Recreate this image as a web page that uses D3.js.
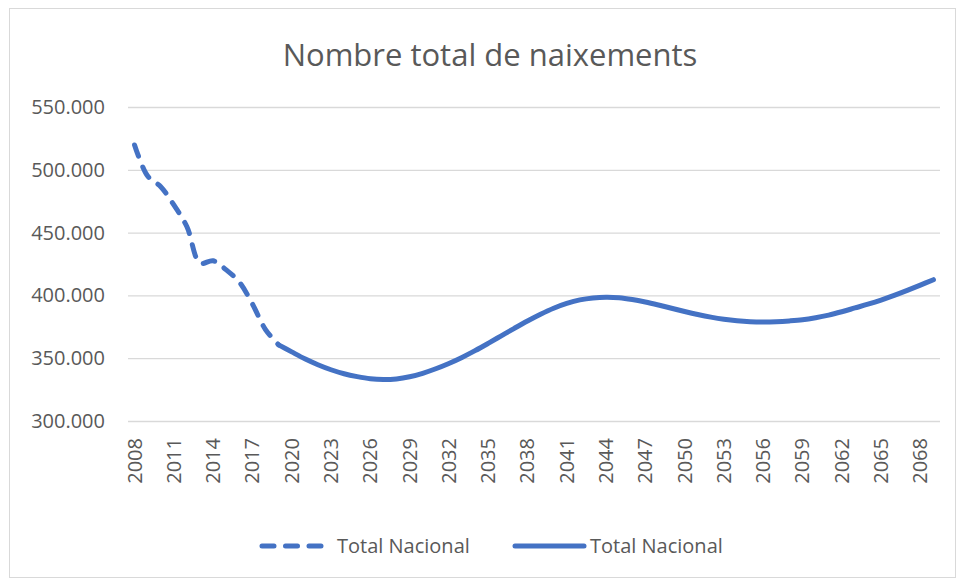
<!DOCTYPE html>
<html lang="ca">
  <head>
    <meta charset="utf-8">
    <title>Nombre total de naixements</title>
    <style>
      body { margin: 0; background: #fff; }
      text { font-family: "Open Sans", sans-serif; fill: #595959; }
    </style>
  </head>
  <body>
    <div id="chart"></div>
    <script src="https://cdn.jsdelivr.net/npm/d3@7"></script>
    <script>

    // years 2008..2069 (category axis)
    var years = d3.range(2008, 2070);

    // observed births 2008-2019 (dashed)
    var histYears = d3.range(2008, 2020);
    var histValues = [519779, 494997, 486575, 471999, 454648, 425715,
                      427595, 420290, 410583, 393181, 372777, 360617];

    // projection 2019-2069 (solid)
    var projYears = d3.range(2019, 2070);
    var projValues = [
      360617, 355000, 349500, 344800, 340800, 337600, 335300, 333600, 333000, 333500,
      335200, 338000, 341600, 345800, 350600, 356000, 361800, 367800, 373800, 379600,
      385000, 389800, 393600, 396400, 398000, 398600, 398200, 396800, 394800, 392400,
      389800, 387200, 384800, 382700, 381000, 379800, 379100, 378900, 379100, 379700,
      380600, 382200, 384300, 387000, 390000, 393000, 396300, 400000, 404000, 408200,
      412500
    ];

    var yTicks = [300000, 350000, 400000, 450000, 500000, 550000];
    var xTickYears = years.filter(function(d){ return (d - 2008) % 3 == 0 });
    var legendLabels = ["Total Nacional", "Total Nacional"];

    var W = 958, H = 580;
    var plotL = 128, plotR = 940, plotT = 107, plotB = 421;
    var blue = "#4472C4";

    var svg = d3.select("#chart").append("svg")
      .attr("width", W)
      .attr("height", H);

    // chart frame
    svg.append("rect")
      .attr("x", 9.5).attr("y", 8.5)
      .attr("width", 946).attr("height", 569)
      .attr("fill", "#fff")
      .attr("stroke", "#D9D9D9");

    var x = d3.scaleBand().domain(years).range([plotL, plotR]).padding(0);
    var y = d3.scaleLinear().domain([300000, 550000]).range([plotB, plotT]);
    var cx = function(yr){ return x(yr) + x.bandwidth() / 2 };

    var fmt = d3.formatLocale({decimal: ",", thousands: ".", grouping: [3], currency: ["", "€"]}).format(",d");

    // gridlines + y labels
    var yAxis = svg.append("g")
      .attr("transform", "translate(" + plotL + ",0)")
      .call(d3.axisLeft(y).tickValues(yTicks).tickSize(-(plotR - plotL)).tickPadding(23).tickFormat(fmt));
    yAxis.select(".domain").remove();
    yAxis.selectAll("line").attr("stroke", "#D9D9D9").attr("stroke-width", 1.3);
    yAxis.selectAll("text").attr("font-size", "20px").attr("fill", "#595959")
      .style("font-family", "'Open Sans', sans-serif");

    // x labels (rotated)
    svg.append("g").selectAll("text")
      .data(xTickYears)
      .enter()
      .append("text")
        .attr("transform", function(d){ return "translate(" + cx(d) + "," + (plotB + 17) + ") rotate(-90)" })
        .attr("dy", "0.35em")
        .attr("text-anchor", "end")
        .attr("font-size", "20px")
        .text(function(d){ return d });

    var line = d3.line()
      .x(function(d){ return cx(d[0]) })
      .y(function(d){ return y(d[1]) })
      .curve(d3.curveCatmullRom.alpha(0.5));

    svg.append("path")
      .datum(d3.zip(histYears, histValues))
      .attr("d", line)
      .attr("fill", "none")
      .attr("stroke", blue)
      .attr("stroke-width", 5)
      .attr("stroke-linecap", "round")
      .attr("stroke-dasharray", "12,11.5");

    svg.append("path")
      .datum(d3.zip(projYears, projValues))
      .attr("d", line)
      .attr("fill", "none")
      .attr("stroke", blue)
      .attr("stroke-width", 5)
      .attr("stroke-linecap", "round");

    // title
    svg.append("text")
      .attr("x", 490)
      .attr("y", 66)
      .attr("text-anchor", "middle")
      .attr("font-size", "31px")
      .text("Nombre total de naixements");

    // legend
    var ly = 546;
    var leg = [
      {x1: 262, x2: 322, tx: 337, dash: "12,11.5", label: legendLabels[0]},
      {x1: 515, x2: 584, tx: 590, dash: null, label: legendLabels[1]}
    ];
    leg.forEach(function(d){
      svg.append("line")
        .attr("x1", d.x1).attr("x2", d.x2)
        .attr("y1", ly).attr("y2", ly)
        .attr("stroke", blue)
        .attr("stroke-width", 5)
        .attr("stroke-linecap", "round")
        .attr("stroke-dasharray", d.dash);
      svg.append("text")
        .attr("x", d.tx)
        .attr("y", ly)
        .attr("dy", "0.35em")
        .attr("font-size", "20px")
        .text(d.label);
    });

    </script>
  </body>
</html>
